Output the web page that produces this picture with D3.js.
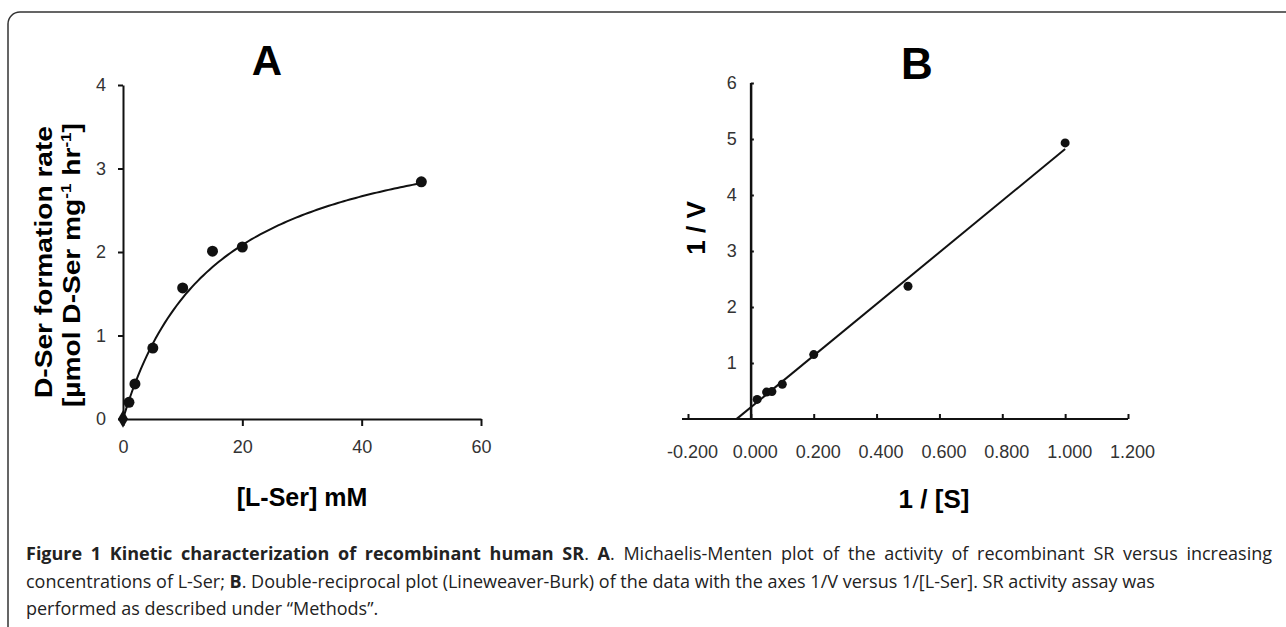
<!DOCTYPE html>
<html>
<head>
<meta charset="utf-8">
<script src="https://cdn.jsdelivr.net/npm/d3@7"></script>
<style>
  body { margin: 0; padding: 0; background: #fff; }
  svg { display: block; }
  .tick text { font-family: "Liberation Sans", Arial, sans-serif; font-size: 18px; fill: #333; }
  .axis path, .axis line { stroke: #111; stroke-width: 2px; }
</style>
</head>
<body>
<svg id="chart" width="1286" height="627"></svg>
<script>
// panel A - Michaelis-Menten
var lSer = [0, 1, 2, 5, 10, 15, 20, 50];           // mM
var rateA = [0, 0.20, 0.42, 0.85, 1.57, 2.01, 2.06, 2.84];
var xTicksA = [0, 20, 40, 60];
var yTicksA = [0, 1, 2, 3, 4];
var fitVmax = 3.7, fitKm = 15.5;                    // fitted curve

// panel B - Lineweaver-Burk
var invS = [0.02, 0.05, 0.067, 0.1, 0.2, 0.5, 1.0];
var invV = [0.35, 0.48, 0.49, 0.62, 1.15, 2.37, 4.93];
var xTicksB = [-0.2, 0, 0.2, 0.4, 0.6, 0.8, 1.0, 1.2];
var yTicksB = [1, 2, 3, 4, 5, 6];
var lineIntercept = 0.21, lineSlope = 4.61, lineStartX = -0.045;

var svg = d3.select("#chart");
var fmt3 = function(d){ return d3.format(".3f")(d).replace("\u2212", "-"); };

// frame
svg.append("rect")
  .attr("x", 8).attr("y", 12)
  .attr("width", 1320).attr("height", 700)
  .attr("rx", 12).attr("ry", 12)
  .attr("fill", "none").attr("stroke", "#333").attr("stroke-width", 1.5);

// ---------- A ----------
var xA = d3.scaleLinear().domain([0, 60]).range([123, 481]);
var yA = d3.scaleLinear().domain([0, 4]).range([419, 85]);

svg.append("g").attr("class", "axis")
  .attr("transform", "translate(0,419)")
  .call(d3.axisBottom(xA).tickValues(xTicksA).tickSize(7).tickSizeOuter(0).tickPadding(14)
    .tickFormat(d3.format("d")));
svg.append("g").attr("class", "axis")
  .attr("transform", "translate(123,0)")
  .call(d3.axisLeft(yA).tickValues(yTicksA).tickSize(5).tickSizeOuter(0).tickPadding(12)
    .tickFormat(d3.format("d")));

var curve = d3.range(0, 50.01, 0.5).map(function(s){ return [s, fitVmax * s / (fitKm + s)]; });
svg.append("path")
  .datum(curve)
  .attr("fill", "none").attr("stroke", "#111").attr("stroke-width", 2)
  .attr("d", d3.line().x(function(d){ return xA(d[0]); }).y(function(d){ return yA(d[1]); }));

svg.selectAll("circle.ptA")
  .data(lSer.slice(1))
  .enter().append("circle")
  .attr("class", "ptA")
  .attr("cx", function(d){ return xA(d); })
  .attr("cy", function(d, i){ return yA(rateA[i + 1]); })
  .attr("r", 5.5)
  .attr("fill", "#111");

svg.append("path")
  .attr("d", d3.symbol().type(d3.symbolDiamond).size(90))
  .attr("transform", "translate(" + xA(lSer[0]) + "," + yA(rateA[0]) + ")")
  .attr("fill", "#111");

svg.append("text")
  .attr("x", 267).attr("y", 75)
  .attr("text-anchor", "middle")
  .attr("font-family", "Liberation Sans, Arial, sans-serif")
  .attr("font-weight", "bold").attr("font-size", "42px")
  .text("A");

svg.append("text")
  .attr("x", 302).attr("y", 506)
  .attr("text-anchor", "middle")
  .attr("font-family", "Liberation Sans, Arial, sans-serif")
  .attr("font-weight", "bold").attr("font-size", "25px")
  .text("[L-Ser] mM");

var yLab = svg.append("g")
  .attr("font-family", "Liberation Sans, Arial, sans-serif")
  .attr("font-weight", "bold").attr("font-size", "23px")
  .attr("text-anchor", "middle");
yLab.append("text")
  .attr("transform", "translate(52,262) rotate(-90)")
  .attr("textLength", 272).attr("lengthAdjust", "spacingAndGlyphs")
  .text("D-Ser formation rate");
var l2 = yLab.append("text")
  .attr("transform", "translate(80,265) rotate(-90)")
  .attr("textLength", 284).attr("lengthAdjust", "spacingAndGlyphs");
l2.append("tspan").text("[µmol D-Ser mg");
l2.append("tspan").attr("font-size", "14px").attr("dy", -9).text("-1");
l2.append("tspan").attr("dy", 9).text(" hr");
l2.append("tspan").attr("font-size", "14px").attr("dy", -9).text("-1");
l2.append("tspan").attr("dy", 9).text("]");

// ---------- B ----------
var xB = d3.scaleLinear().domain([-0.2, 1.2]).range([688, 1128]);
var yB = d3.scaleLinear().domain([0, 6]).range([419, 83]);

var axB = svg.append("g").attr("class", "axis")
  .attr("transform", "translate(0,419)")
  .call(d3.axisBottom(xB).tickValues(xTicksB).tickSize(-5).tickSizeOuter(0).tickPadding(26)
    .tickFormat(fmt3));
axB.select(".domain").attr("d", "M682,0H1128");
axB.selectAll(".tick text").attr("dx", 4);
svg.append("g").attr("class", "axis")
  .attr("transform", "translate(" + xB(0) + ",0)")
  .call(d3.axisLeft(yB).tickValues(yTicksB).tickSize(-3).tickSizeOuter(0).tickPadding(14)
    .tickFormat(d3.format("d")));
svg.append("line")
  .attr("x1", xB(0)).attr("x2", xB(0)).attr("y1", yB(0)).attr("y2", yB(6))
  .attr("stroke", "#111").attr("stroke-width", 2);

svg.append("line")
  .attr("x1", xB(lineStartX)).attr("y1", yB(lineIntercept + lineSlope * lineStartX))
  .attr("x2", xB(1.0)).attr("y2", yB(lineIntercept + lineSlope * 1.0))
  .attr("stroke", "#111").attr("stroke-width", 2);

svg.selectAll("circle.ptB")
  .data(invS)
  .enter().append("circle")
  .attr("class", "ptB")
  .attr("cx", function(d){ return xB(d); })
  .attr("cy", function(d, i){ return yB(invV[i]); })
  .attr("r", 4.5)
  .attr("fill", "#111");

svg.append("text")
  .attr("x", 917).attr("y", 79)
  .attr("text-anchor", "middle")
  .attr("font-family", "Liberation Sans, Arial, sans-serif")
  .attr("font-weight", "bold").attr("font-size", "44px")
  .text("B");

svg.append("text")
  .attr("transform", "translate(705,228) rotate(-90)")
  .attr("text-anchor", "middle")
  .attr("font-family", "Liberation Sans, Arial, sans-serif")
  .attr("font-weight", "bold").attr("font-size", "26px")
  .text("1 / V");

svg.append("text")
  .attr("x", 934).attr("y", 508)
  .attr("text-anchor", "middle")
  .attr("font-family", "Liberation Sans, Arial, sans-serif")
  .attr("font-weight", "bold").attr("font-size", "26px")
  .text("1 / [S]");

// ---------- caption ----------
var cap = svg.append("g")
  .attr("font-family", "Open Sans, sans-serif")
  .attr("font-size", "18px")
  .attr("fill", "#222");
var c1 = cap.append("text").attr("x", 26).attr("y", 560);
c1.append("tspan").attr("font-weight", "bold").text("Figure 1 Kinetic characterization of recombinant human SR");
c1.append("tspan").text(". ");
c1.append("tspan").attr("font-weight", "bold").text("A");
c1.append("tspan").text(". Michaelis-Menten plot of the activity of recombinant SR versus increasing");
// justify first line by adjusting the word gaps
var natural = c1.node().getComputedTextLength();
var gaps = c1.text().split(" ").length - 1;
c1.attr("word-spacing", ((1272 - 26 - natural) / gaps) + "px");

var c2 = cap.append("text").attr("x", 26).attr("y", 588);
c2.append("tspan").text("concentrations of L-Ser; ");
c2.append("tspan").attr("font-weight", "bold").text("B");
c2.append("tspan").text(". Double-reciprocal plot (Lineweaver-Burk) of the data with the axes 1/V versus 1/[L-Ser]. SR activity assay was");
cap.append("text").attr("x", 26).attr("y", 615)
  .text("performed as described under \u201cMethods\u201d.");
</script>
</body>
</html>
